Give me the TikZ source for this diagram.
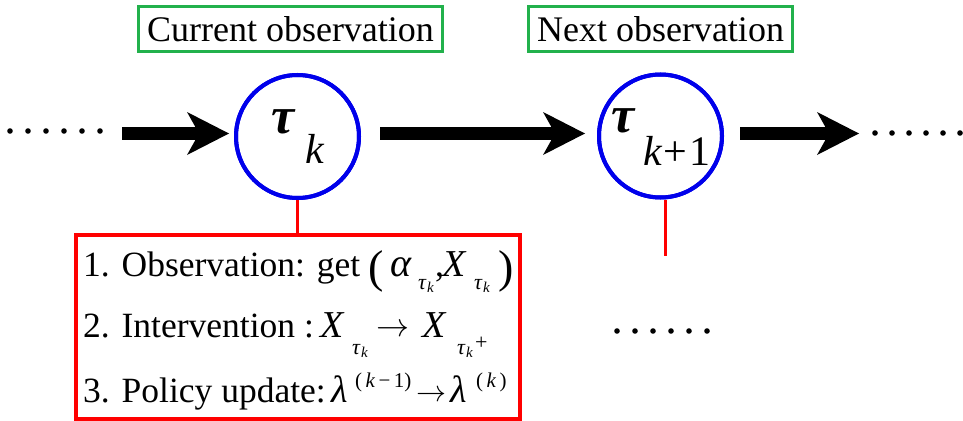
\documentclass[tikz,border=0pt]{standalone}
\usepackage{fontspec}
\setmainfont{Liberation Serif}
\usetikzlibrary{arrows.meta,calc}
\definecolor{gbox}{RGB}{34,177,76}
\definecolor{cblue}{RGB}{0,0,235}
\definecolor{rbox}{RGB}{255,0,0}
% piece of text: width, size, raise, content
\newcommand{\pc}[4]{\makebox[#1pt][l]{\raisebox{#3pt}{\fontsize{#2}{#2}\selectfont #4}}}
\newcommand{\arr}[1]{\resizebox{#1pt}{!}{$\rightarrow$}}
\begin{document}
\begin{tikzpicture}[x=1pt,y=-1pt,
  labelbox/.style={draw=gbox, line width=3pt, inner xsep=9pt, inner ysep=0pt,
    minimum height=45pt, font=\fontsize{36}{40}\selectfont},
  stage/.style={circle, draw=cblue, line width=4pt, minimum size=123pt, inner sep=0pt},
  bigarrow/.style={line width=13pt, -{Stealth[length=42pt,width=43pt,inset=12pt,line width=0pt]}},
  redline/.style={draw=rbox, line width=3pt},
  redbox/.style={draw=rbox, line width=3.5pt, inner sep=0pt},
  boxtxt/.style={inner sep=0pt, anchor=base west, font=\fontsize{35.5}{40}\selectfont},
  tautxt/.style={inner sep=0pt, anchor=base west, font=\fontsize{52}{52}\selectfont\bfseries\itshape},
  subtxt/.style={inner sep=0pt, anchor=base west, font=\fontsize{42}{42}\selectfont},
  dot/.style={fill=black}
]
\useasboundingbox (0,0) rectangle (963,420);

% labels
\node[labelbox] (lab1) at (290.5,29.5) {Current observation};
\node[labelbox] (lab2) at (660.5,29.5) {Next observation};

% red box
\node[redbox, minimum width=444pt, minimum height=184pt, anchor=north west] (box) at (74,233) {};

% circles and red connectors
\coordinate (c2end) at (665,256);
\node[stage] (c1) at (297.5,136.5) {};
\node[stage] (c2) at (660.5,136) {};
\draw[redline] (c1.south) -- (box.north -| c1.south);
\draw[redline] (c2.south -| c2end) -- (c2end);
\node[stage] at (c1) {};
\node[stage] at (c2) {};

% box text
\node[boxtxt] (l1) at (83,276) {%
  \makebox[285pt][l]{1. Observation: get}%
  \pc{22}{46}{-6}{(}%
  \pc{28}{40}{0}{\itshape α}%
  \pc{9}{22}{-13}{\itshape τ}%
  \pc{8}{15}{-16}{\itshape k}%
  \pc{7}{36}{0}{,}%
  \pc{32}{38}{0}{\itshape X}%
  \pc{9}{22}{-13}{\itshape τ}%
  \pc{15}{15}{-16}{\itshape k}%
  \pc{12}{46}{-6}{)}};
\node[boxtxt] (l2) at (83,337) {%
  \makebox[237pt][l]{2. Intervention :}%
  \pc{32}{38}{0}{\itshape X}%
  \pc{9}{22}{-17}{\itshape τ}%
  \pc{15}{15}{-20}{\itshape k}%
  \makebox[46pt][l]{\raisebox{1pt}{\arr{33}}}%
  \pc{35}{38}{0}{\itshape X}%
  \pc{9}{22}{-17}{\itshape τ}%
  \pc{9}{15}{-20}{\itshape k}%
  \pc{16}{22}{-12}{+}};
\node[boxtxt] (l3) at (83,402) {%
  \makebox[248pt][l]{3. Policy update:}%
  \pc{24}{38}{0}{\itshape λ}%
  \pc{61}{21}{15}{(\,{\itshape k}\,−\,1)}%
  \makebox[34pt][l]{\raisebox{1pt}{\arr{30}}}%
  \pc{26}{38}{0}{\itshape λ}%
  \pc{36}{21}{15}{(\,{\itshape k}\,)}};

% circle texts
\node[tautxt] (t1) at (271,133) {τ};
\node[subtxt] (k1) at (305,163) {\itshape k};
\node[tautxt] (t2) at (611,132) {τ};
\node[subtxt] (k2) at (643,165) {{\itshape k}\kern2pt+\kern2pt1};

% arrows
\coordinate (lstart) at (122,133.5);
\coordinate (rend) at (859,133.5);
\draw[bigarrow] (lstart) -- ($(c1.west)+(-5,-3)$);
\draw[bigarrow] ($(c1.east)+(19,-3)$) -- ($(c2.west)+(-12,-2.5)$);
\draw[bigarrow] ($(c2.east)+(16,-2.5)$) -- (rend);

% dots
\foreach \i in {0,...,5} {
  \fill[dot] (10+18*\i,131) circle (2.8);
  \fill[dot] (875+17*\i,133) circle (2.8);
  \fill[dot] (617+18*\i,331) circle (2.8);
}
\end{tikzpicture}
\end{document}
